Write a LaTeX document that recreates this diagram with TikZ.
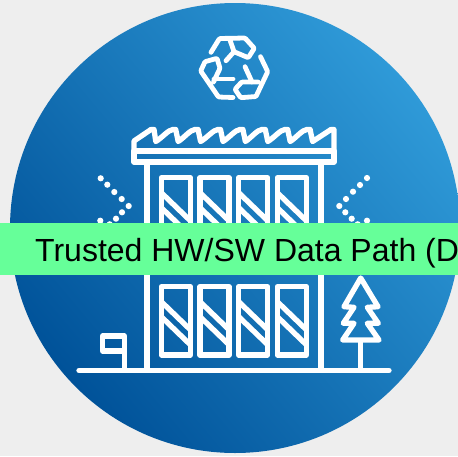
\documentclass[tikz,border=0pt]{standalone}
\usepackage{fontspec}
\setmainfont{Liberation Sans}
\definecolor{bgc}{HTML}{EEEEEE}
\definecolor{gdark}{HTML}{005299}
\definecolor{glight}{HTML}{2F9AD8}
\definecolor{bandc}{HTML}{66FF99}
\tikzset{
  icon/.style={draw=white,line width=5.3pt,line join=round,line cap=round},
  thinicon/.style={draw=white,line width=4.8pt,line join=round,line cap=round},
  dotc/.style={fill=white,draw=none},
}
\newcommand{\wnd}[2]{%
  \draw[icon] (#1,#2) rectangle ++(29,68.3);
  \begin{scope}
    \clip (#1,#2) rectangle ++(29,68.3);
    \draw[icon,line cap=butt] (#1,#2+15) -- ++(29,28);
    \draw[icon,line cap=butt] (#1,#2+30) -- ++(29,28);
  \end{scope}}
\begin{document}
\begin{tikzpicture}[x=1pt,y=-1pt]
\useasboundingbox (0,0) rectangle (458,456);
\clip (0,0) rectangle (458,456);
\fill[bgc] (0,0) rectangle (458,456);
\shade[bottom color=gdark,top color=glight,shading angle=-50] (235,228) circle (225);
% recycling sign
\draw[thinicon,rounded corners=1pt] (211,52.3) -- (219.5,38.5) -- (245,38) -- (254.3,48.3) -- (248.3,57.7) -- (234,51.7) -- (230,40);
\draw[thinicon] (234,51.7) -- (226,60.7);
\draw[thinicon,rounded corners=1pt] (260.5,56.7) -- (267.7,71.7) -- (256,96.5) -- (240.7,97.7) -- (235,89.3) -- (241.7,82) -- (258,82) ;
\draw[thinicon] (245,66.7) -- (252,82);
\draw[thinicon,rounded corners=1pt] (233,97.5) -- (218.5,97) -- (200.7,71) -- (205,61.7) -- (217,58.3) -- (220,68.3) -- (213.5,82) ;
\draw[thinicon] (233,79) -- (214,79);
% roof
\draw[icon] (134,151) rectangle (334,162);
\draw[icon] (134,151) -- (134,141) -- (151,129.5) -- (154,129.5)
  -- (155.8,141.5) .. controls (163,137) and (168,130) .. (173,129.5) -- (175.7,129.5)
  -- (178.2,141.5) .. controls (185,137) and (190,130) .. (195,129.5) -- (198.1,129.5)
  -- (200.6,141.5) .. controls (208,137) and (213,130) .. (218,129.5) -- (220.5,129.5)
  -- (223,141.5) .. controls (230,137) and (235,130) .. (240,129.5) -- (242.9,129.5)
  -- (245.4,141.5) .. controls (252,137) and (257,130) .. (262,129.5) -- (265.3,129.5)
  -- (267.8,141.5) .. controls (275,137) and (280,130) .. (285,129.5) -- (287.7,129.5)
  -- (290.2,141.5) .. controls (297,137) and (302,130) .. (307,129.5) -- (310.1,129.5)
  -- (312.6,141.5) -- (331,129.5) -- (334,129.5) -- (334,151);
% walls and ground
\draw[icon,line cap=butt] (147,162) -- (147,370);
\draw[icon,line cap=butt] (321,162) -- (321,370);
\draw[icon] (79,370.5) -- (389,370.5);
% windows
\wnd{161.3}{177.7}\wnd{200}{177.7}\wnd{238.7}{177.7}\wnd{277.3}{177.7}
\wnd{161.3}{286.7}\wnd{200}{286.7}\wnd{238.7}{286.7}\wnd{277.3}{286.7}
% flag
\draw[icon] (124.3,370) -- (124.3,336) -- (102.5,336) -- (102.5,351) -- (124.3,351);
% tree
\draw[icon] (360.7,278) -- (344,306.7) -- (354,307.3) -- (343.3,323.3) -- (354,323.3) -- (342.7,340) -- (379,340) -- (367.3,323.3) -- (378.3,323.3) -- (367.3,307.3) -- (378,306.7) -- cycle;
\draw[icon,line cap=butt] (360.7,340) -- (360.7,370);
% dots
\foreach \x/\y in {100.7/178.3,107.3/184.7,114.3/192,121.7/199,128.7/206,122/212.3,116/218.7,109.7/224.3,100.3/220.7,
  367/178,360/185,353/191.7,346/199,339.3/206,345.3/212.3,351.7/218.7,357.7/224.3,367/220.7}
  \fill[dotc] (\x,\y) circle (3.1);
% band
\fill[bandc] (0,223) rectangle (458,275);
\node[anchor=base west,inner sep=0pt,font=\fontsize{32}{32}\selectfont,text=black] (bandtext) at (35,261) {Trusted HW/SW Data Path (D};
\end{tikzpicture}
\end{document}
